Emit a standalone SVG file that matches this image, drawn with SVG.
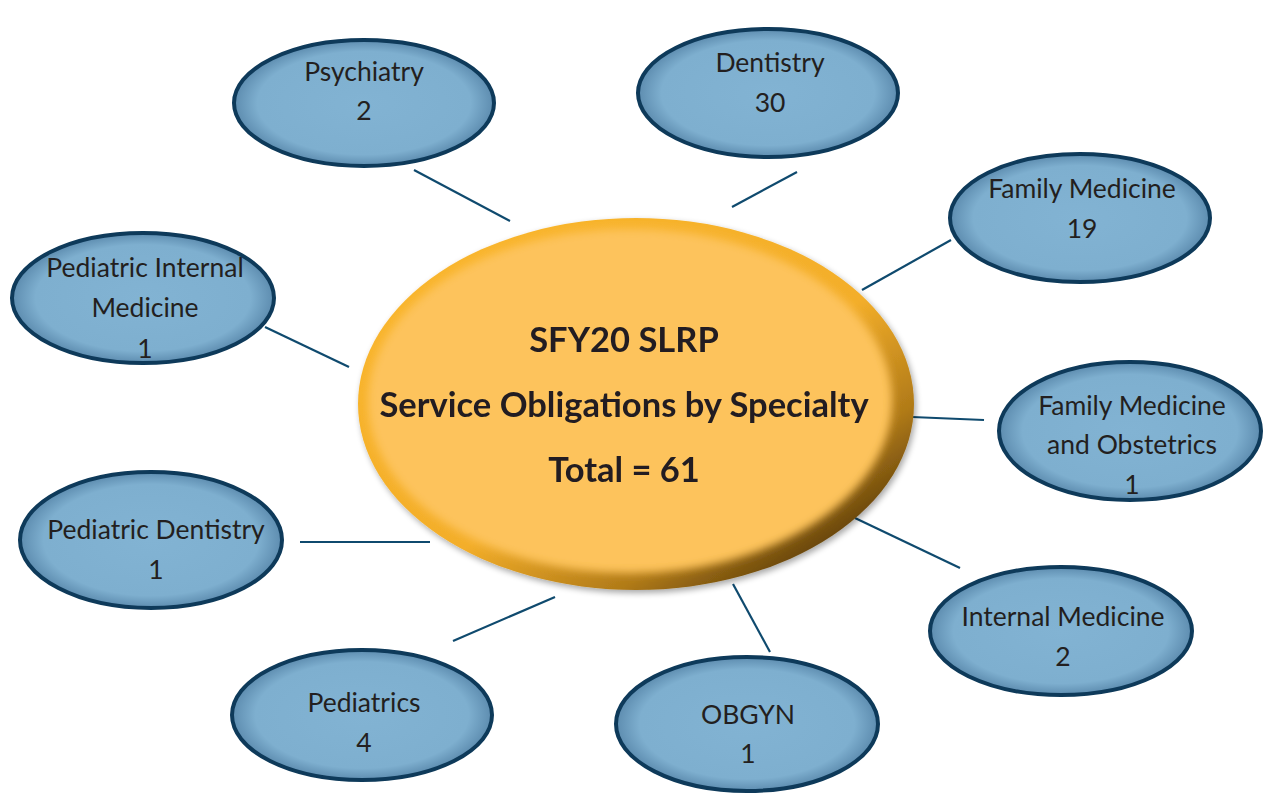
<svg xmlns="http://www.w3.org/2000/svg" width="1265" height="806" viewBox="0 0 1265 806">
<defs>
<radialGradient id="nodeFill" cx="50%" cy="50%" r="50%">
<stop offset="0" stop-color="#82b3d3"/>
<stop offset="0.82" stop-color="#7eafcf"/>
<stop offset="1" stop-color="#5d8caf"/>
</radialGradient>
<linearGradient id="rim" x1="0.15" y1="0.1" x2="0.9" y2="0.9">
<stop offset="0" stop-color="#f9b52c"/>
<stop offset="0.55" stop-color="#f3ae2a"/>
<stop offset="0.8" stop-color="#b07a18"/>
<stop offset="1" stop-color="#4f3408"/>
</linearGradient>
<filter id="shadow" x="-10%" y="-10%" width="125%" height="125%">
<feGaussianBlur in="SourceAlpha" stdDeviation="3"/>
<feOffset dx="2" dy="3" result="b"/>
<feComponentTransfer><feFuncA type="linear" slope="0.35"/></feComponentTransfer>
<feMerge><feMergeNode/><feMergeNode in="SourceGraphic"/></feMerge>
</filter>
<filter id="soft" x="-5%" y="-5%" width="110%" height="110%">
<feGaussianBlur stdDeviation="4"/>
</filter>
</defs>
<style>
.node ellipse{fill:url(#nodeFill);stroke:#0e3a5a;stroke-width:4}
.node text{font-family:Lato,"Liberation Sans",sans-serif;font-size:26.5px;fill:#231f20;text-anchor:middle}
.conn line{stroke:#0f4a6e;stroke-width:2.2}
.title{font-family:Lato,"Liberation Sans",sans-serif;font-weight:bold;font-size:34.5px;fill:#231f20;text-anchor:middle}
</style>
<rect width="1265" height="806" fill="#ffffff"/>
<g id="connectors" class="conn">
<line x1="414" y1="170" x2="510" y2="221"/>
<line x1="797" y1="172" x2="732" y2="207"/>
<line x1="951" y1="240" x2="862" y2="290"/>
<line x1="265" y1="327" x2="349" y2="367"/>
<line x1="912" y1="417" x2="984" y2="420"/>
<line x1="300" y1="542" x2="430" y2="542"/>
<line x1="855" y1="518" x2="960" y2="568"/>
<line x1="453" y1="641" x2="555" y2="597"/>
<line x1="733" y1="584" x2="770" y2="652"/>
</g>
<g id="center" filter="url(#shadow)">
<ellipse cx="636" cy="404" rx="278" ry="186" fill="url(#rim)"/>
<ellipse cx="630" cy="401" rx="262" ry="172" fill="#fdc35c" filter="url(#soft)"/>
<text class="title" x="624" y="352">SFY20 SLRP</text>
<text class="title" x="624" y="417">Service Obligations by Specialty</text>
<text class="title" x="624" y="482">Total = 61</text>
</g>
<g id="psychiatry" class="node"><ellipse cx="364" cy="103" rx="130" ry="63"/><text x="364" y="81">Psychiatry</text><text x="364" y="120">2</text></g>
<g id="dentistry" class="node"><ellipse cx="768" cy="93" rx="130" ry="64"/><text x="770" y="72">Dentistry</text><text x="770" y="112">30</text></g>
<g id="family-medicine" class="node"><ellipse cx="1080" cy="218" rx="130" ry="64"/><text x="1082" y="198">Family Medicine</text><text x="1082" y="238">19</text></g>
<g id="pediatric-internal-medicine" class="node"><ellipse cx="143" cy="298" rx="131" ry="65"/><text x="145" y="277">Pediatric Internal</text><text x="145" y="317">Medicine</text><text x="145" y="358">1</text></g>
<g id="family-medicine-obstetrics" class="node"><ellipse cx="1130" cy="431" rx="131" ry="69"/><text x="1132" y="415">Family Medicine</text><text x="1132" y="454">and Obstetrics</text><text x="1132" y="494">1</text></g>
<g id="pediatric-dentistry" class="node"><ellipse cx="151" cy="540" rx="131" ry="68"/><text x="156" y="539">Pediatric Dentistry</text><text x="156" y="579">1</text></g>
<g id="internal-medicine" class="node"><ellipse cx="1061" cy="631" rx="131" ry="64"/><text x="1063" y="626">Internal Medicine</text><text x="1063" y="666">2</text></g>
<g id="pediatrics" class="node"><ellipse cx="362" cy="715" rx="130" ry="65"/><text x="364" y="712">Pediatrics</text><text x="364" y="752">4</text></g>
<g id="obgyn" class="node"><ellipse cx="747" cy="724" rx="131" ry="67"/><text x="748" y="724">OBGYN</text><text x="748" y="763">1</text></g>
</svg>
